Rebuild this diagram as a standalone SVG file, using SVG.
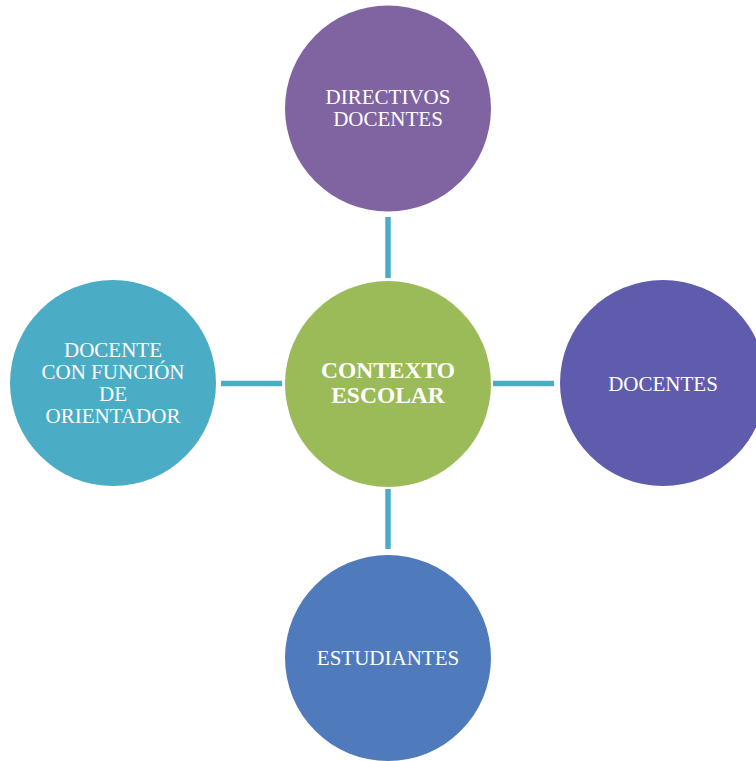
<svg xmlns="http://www.w3.org/2000/svg" width="756" height="761" viewBox="0 0 756 761">
<style>
.t{font-family:"Liberation Serif","Times New Roman",serif;font-size:21px;fill:#ffffff;text-anchor:middle}
.b{font-weight:bold;font-size:23.5px}
.c{stroke:#4BACC6;stroke-width:5.5;fill:none}
</style>
<rect width="756" height="761" fill="#ffffff"/>
<g id="connectors">
<line class="c" x1="388" y1="217" x2="388" y2="278"/>
<line class="c" x1="388" y1="489" x2="388" y2="549"/>
<line class="c" x1="221" y1="383.5" x2="282" y2="383.5"/>
<line class="c" x1="493" y1="383.5" x2="554" y2="383.5"/>
</g>
<g id="contexto">
<circle cx="388" cy="384" r="103" fill="#9BBB59"/>
<text class="t b" x="388" y="378">CONTEXTO</text>
<text class="t b" x="388" y="402.5">ESCOLAR</text>
</g>
<g id="directivos">
<circle cx="388" cy="108.5" r="103" fill="#8064A2"/>
<text class="t" x="388" y="104">DIRECTIVOS</text>
<text class="t" x="388" y="126">DOCENTES</text>
</g>
<g id="docentes">
<circle cx="663" cy="383" r="103" fill="#5F5BAD"/>
<text class="t" x="663" y="390.5">DOCENTES</text>
</g>
<g id="estudiantes">
<circle cx="388" cy="658" r="103" fill="#4F7BBD"/>
<text class="t" x="388" y="665">ESTUDIANTES</text>
</g>
<g id="orientador">
<circle cx="113" cy="383" r="103" fill="#4BACC6"/>
<text class="t" x="113" y="357.3">DOCENTE</text>
<text class="t" x="113" y="379.3">CON FUNCIÓN</text>
<text class="t" x="113" y="400.8">DE</text>
<text class="t" x="113" y="422.7">ORIENTADOR</text>
</g>
</svg>
